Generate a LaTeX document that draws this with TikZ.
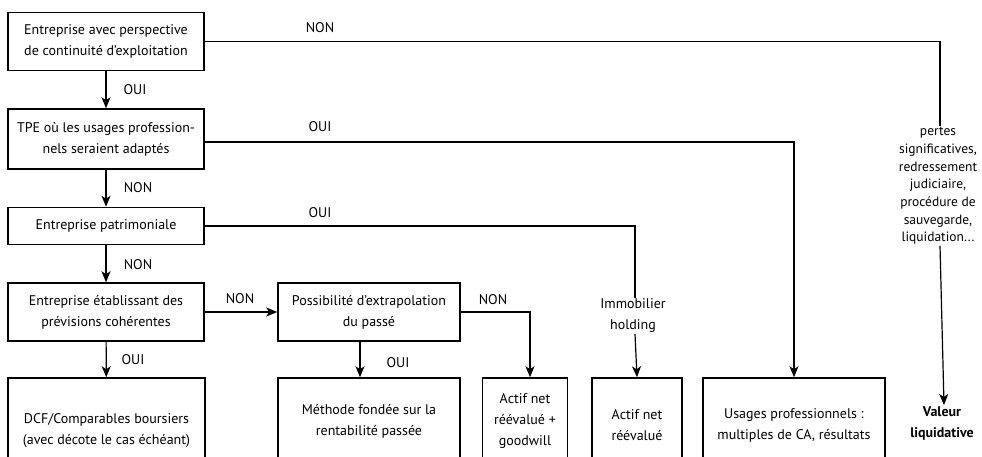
\documentclass[tikz,border=0pt]{standalone}
\usepackage{fontspec}
\setmainfont{PT Sans}
\usetikzlibrary{arrows.meta}
\tikzset{
  box/.style={draw, line width=1.5pt, rectangle, align=center, inner sep=2pt},
  lbl/.style={inner sep=1pt},
  arr/.style={-{Stealth[length=11pt,width=9pt,inset=3pt]}, line width=1.2pt},
  lin/.style={line width=1.2pt}
}
\begin{document}
\begin{tikzpicture}[x=1pt,y=-1pt,font=\fontsize{14}{21}\selectfont]
\useasboundingbox (0,0) rectangle (982,457);
\node[box, minimum width=196pt, minimum height=58pt] (cont) at (106,41.5) {Entreprise avec perspective\\de continuité d'exploitation};
\node[box, minimum width=196pt, minimum height=60pt] (tpe) at (106,139) {TPE où les usages profession-\\nels seraient adaptés};
\node[box, minimum width=196pt, minimum height=37pt] (patri) at (106,226) {Entreprise patrimoniale};
\node[box, minimum width=196pt, minimum height=58pt] (prev) at (106,312) {Entreprise établissant des\\prévisions cohérentes};
\node[box, minimum width=197pt, minimum height=106pt] (dcf) at (106.5,431) {DCF/Comparables boursiers\\(avec décote le cas échéant)};
\node[box, minimum width=182pt, minimum height=58pt] (extra) at (369,312) {Possibilité d'extrapolation\\du passé};
\node[box, minimum width=182pt, minimum height=86pt] (meth) at (369,421) {Méthode fondée sur la\\rentabilité passée};
\node[box, minimum width=85pt, minimum height=86pt] (goodw) at (525,421) {Actif net\\réévalué +\\goodwill};
\node[box, minimum width=90pt, minimum height=94pt] (actif) at (637,425) {Actif net\\réévalué};
\node[box, minimum width=182pt, minimum height=94pt] (usages) at (794,425) {Usages professionnels :\\multiples de CA, résultats};
\node[align=center, inner sep=1pt] (immo) at (633,316) {Immobilier\\holding};
\node[align=center, inner sep=1pt, font=\fontsize{13.5}{17.7}\selectfont] (pertes) at (938,186) {pertes\\significatives,\\redressement\\judiciaire,\\procédure de\\sauvegarde,\\liquidation...};
\node[align=center, inner sep=1pt, font=\fontsize{14}{21}\bfseries] (valeur) at (942,423) {Valeur\\liquidative};

\draw[arr] (cont) -- (tpe);
\draw[arr] (tpe) -- (patri);
\draw[arr] (patri) -- (prev);
\draw[arr] (prev) -- (dcf);
\draw[arr] (prev) -- (extra);
\draw[arr] ([xshift=-9pt]extra.south) -- ([xshift=-9pt]extra.south |- meth.north);
\draw[lin] (cont.east) -| ([xshift=2pt]pertes.north);
\draw[arr] ([xshift=2pt]pertes.south) -- ([xshift=2pt]valeur.north);
\draw[arr] ([yshift=-3pt]tpe.east) -| (usages.north);
\draw[lin] (patri.east) -| ([xshift=2pt]immo.north);
\draw[arr] ([xshift=2pt]immo.south) -- (actif.north);
\draw[arr] (extra.east) -| ([xshift=5pt]goodw.north);

\node[lbl] (l1) at (135,90) {OUI};
\node[lbl] (l2) at (138,188) {NON};
\node[lbl] (l3) at (138,265) {NON};
\node[lbl] (l4) at (133,360) {OUI};
\node[lbl] (l5) at (398,363) {OUI};
\node[lbl] (l6) at (320,28) {NON};
\node[lbl] (l7) at (320,127) {OUI};
\node[lbl] (l8) at (320,213) {OUI};
\node[lbl] (l9) at (240,299) {NON};
\node[lbl] (l10) at (493,300) {NON};
\end{tikzpicture}
\end{document}
